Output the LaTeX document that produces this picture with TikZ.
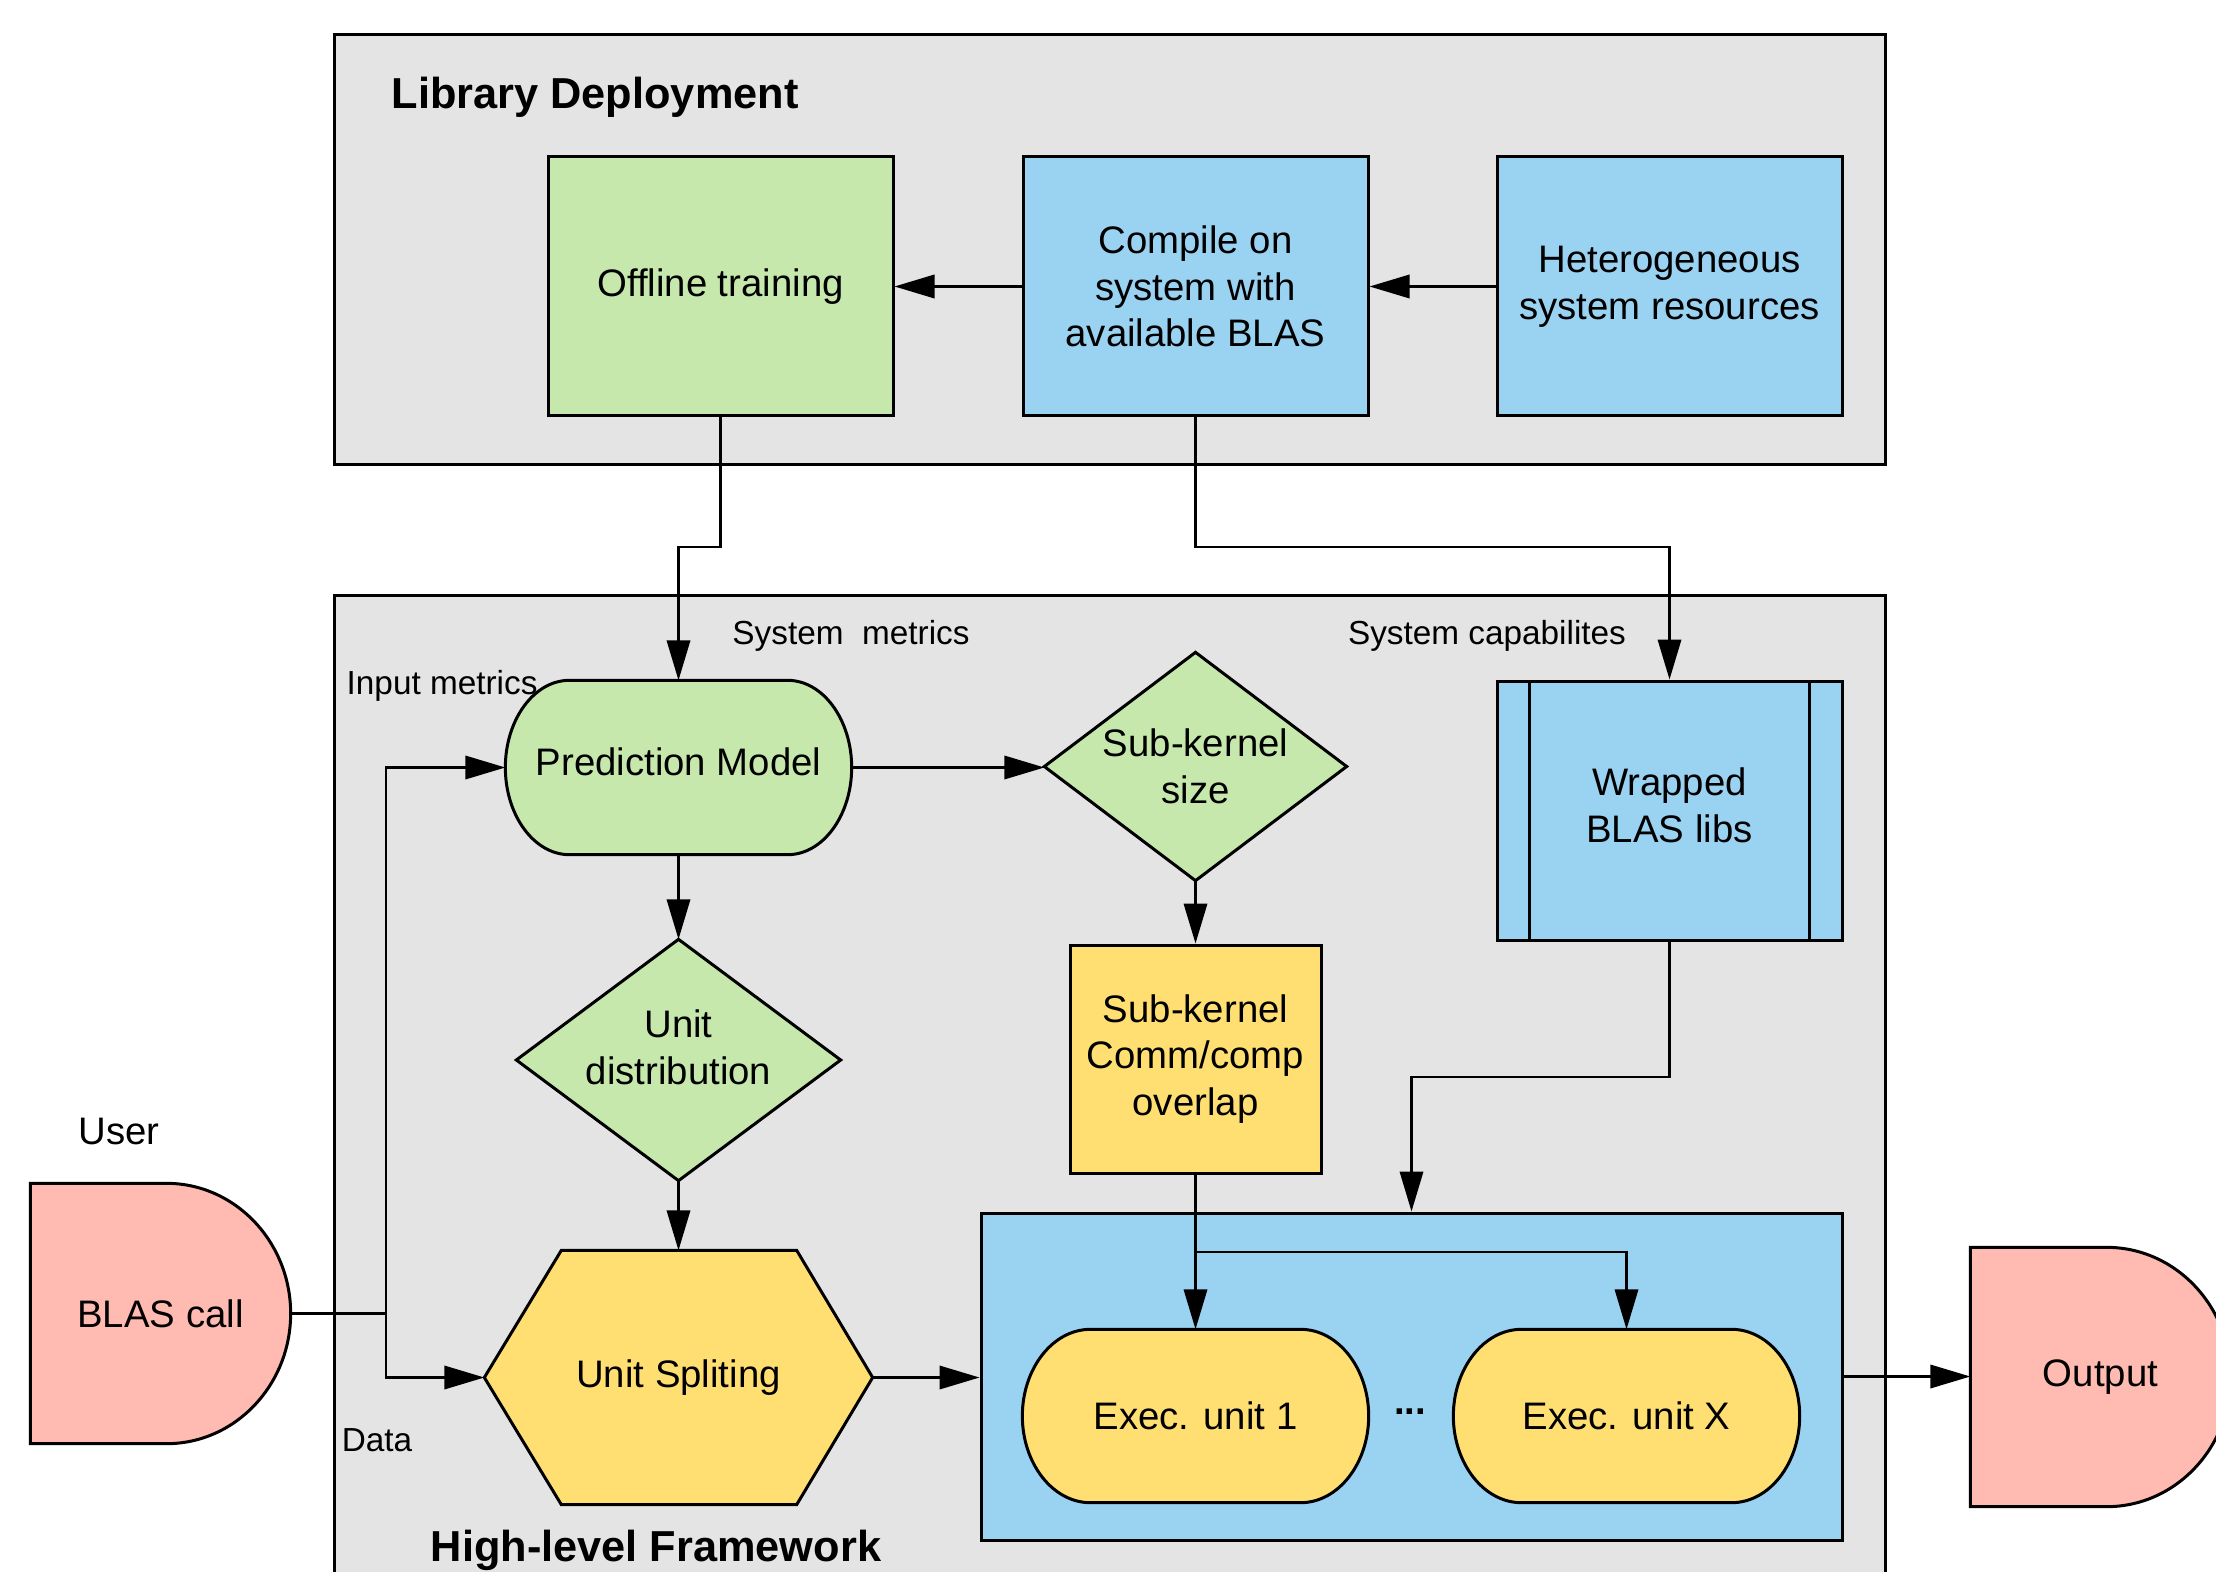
\documentclass[tikz,border=0pt]{standalone}
\usepackage{fontspec}
\setmainfont{Liberation Sans}
\usetikzlibrary{arrows.meta,calc,shapes.geometric}
\pgfdeclarelayer{back}\pgfdeclarelayer{mid}\pgfsetlayers{back,mid,main}
\definecolor{cgray}{HTML}{E4E4E4}
\definecolor{cgreen}{HTML}{C7E8AC}
\definecolor{cblue}{HTML}{9AD2F2}
\definecolor{cyel}{HTML}{FFDF71}
\definecolor{cpink}{HTML}{FFBBB1}
\newcommand\mybarrel[4]{\path[shp,#1] ($(#2.north west)+(#3,0)$) -- ($(#2.north east)+(-#3,0)$) .. controls +({0.552*#3},0) and +(0,{-0.552*#4}) .. (#2.east) .. controls +(0,{0.552*#4}) and +({0.552*#3},0) .. ($(#2.south east)+(-#3,0)$) -- ($(#2.south west)+(#3,0)$) .. controls +({-0.552*#3},0) and +(0,{0.552*#4}) .. (#2.west) .. controls +(0,{-0.552*#4}) and +({-0.552*#3},0) .. cycle;}
\newcommand\mydshape[4]{\path[shp,#1] (#2.north west) -- ($(#2.north east)+(-#3,0)$) .. controls +({0.552*#3},0) and +(0,{-0.552*#4}) .. (#2.east) .. controls +(0,{0.552*#4}) and +({0.552*#3},0) .. ($(#2.south east)+(-#3,0)$) -- (#2.south west) -- cycle;}
\newcommand\mydiamond[2]{\path[shp,#1] (#2.north) -- (#2.east) -- (#2.south) -- (#2.west) -- cycle;}
\begin{document}
\begin{tikzpicture}[x=0.3pt,y=-0.3pt,
 mainf/.style={font=\fontsize{11.5}{14}\selectfont, align=center},
 small/.style={font=\fontsize{10}{12}\selectfont},
 titlef/.style={font=\fontsize{13}{15}\selectfont\bfseries},
 wh/.style 2 args={minimum width=#1*0.3pt, minimum height=#2*0.3pt},
 box/.style={mainf, draw, line width=0.9pt, inner sep=0pt},
 shp/.style={draw, line width=0.9pt},
 ghost/.style={mainf, inner sep=0pt},
 cont/.style={draw, fill=cgray, line width=0.9pt, inner sep=0pt},
 arr/.style={draw, line width=0.75pt, -{Triangle[length=12pt,width=7pt]}},
 ln/.style={draw, line width=0.75pt},
]
\useasboundingbox (0,0) rectangle (2216,1572);
\begin{pgfonlayer}{back}
\begin{scope}
\clip (0,0) rectangle (2216,1572);
\node[cont, wh={1551}{430}] (ld) at (1109.5,250) {};
\node[cont, wh={1551}{1005}] (hf) at (1109.5,1097.5) {};
\node[draw, fill=cblue, line width=0.9pt, inner sep=0pt, wh={861}{327}] (ex) at (1411.5,1376.5) {};
\end{scope}
\end{pgfonlayer}

\node[box, fill=cgreen, wh={345}{259}] (off) at (720.5,286.5) {Offline training};
\node[box, fill=cblue, wh={345}{259}] (cp) at (1195.5,286.5) {Compile on\\system with\\available BLAS};
\node[box, fill=cblue, wh={345}{259}] (hs) at (1669.5,286.5) {Heterogeneous\\system resources};
\node[ghost, wh={345}{173}, text depth=3.4pt] (pm) at (678.5,767.5) {Prediction Model};
\node[ghost, wh={301}{227}] (sk) at (1195.5,766.5) {Sub-kernel\\size};
\node[ghost, wh={323}{240}, text depth=7.6pt] (ud) at (678.5,1060) {Unit\\distribution};
\node[box, fill=cblue, wh={345}{259}, text depth=3.4pt] (wr) at (1669.5,810.5) {Wrapped\\BLAS libs};
\node[box, fill=cyel, wh={251}{228}] (sc) at (1195.5,1059) {Sub-kernel\\Comm/comp\\overlap};
\node[ghost, wh={387}{253}] (us) at (678.5,1377.5) {Unit Spliting};
\node[ghost, wh={345}{172}] (e1) at (1195.5,1416) {Exec. unit 1};
\node[ghost, wh={345}{172}] (eX) at (1626.5,1416) {Exec. unit X};
\node[mainf, font=\fontsize{11.5}{14}\selectfont\bfseries] (dots) at (1410,1412) {...};
\node[ghost, wh={259}{259}] (bc) at (160.5,1313.5) {BLAS call};
\node[ghost, wh={259}{258}] (out) at (2100.5,1377) {Output};

\draw[line width=0.9pt] ($(wr.north west)+(34,0)$) -- ($(wr.south west)+(34,0)$);
\draw[line width=0.9pt] ($(wr.north east)+(-34,0)$) -- ($(wr.south east)+(-34,0)$);

\node[titlef, anchor=west, inner sep=0pt] (lld) at (391,97) {Library Deployment};
\node[titlef] (lhf) at (656,1550) {High-level Framework};
\node[small, anchor=west, inner sep=0pt] (lin) at (346,686) {Input metrics};
\node[small] (lsm) at (851,636) {System~~metrics};
\node[small] (lsc) at (1487,636) {System capabilites};
\node[mainf] (luser) at (119,1131) {User};
\node[small] (ldata) at (377,1440) {Data};

\coordinate (j1) at (0,547);
\coordinate (j2) at (0,1077);
\coordinate (j3) at (0,1252);
\coordinate (jb) at (386,1313.5);
\draw[arr] (cp.west) -- (off.east);
\draw[arr] (hs.west) -- (cp.east);
\draw[arr] (off.south) -- (off.south |- j1) -| (pm.north);
\draw[arr] (cp.south) -- (cp.south |- j1) -| (wr.north);
\draw[arr] (pm.east) -- (pm.east -| sk.west);
\draw[arr] (pm.south) -- (ud.north);
\draw[arr] (sk.south) -- (sc.north);
\draw[arr] (ud.south) -- (us.north);
\draw[arr] (wr.south) -- (wr.south |- j2) -| (ex.north);
\draw[arr] (sc.south) -- (e1.north);
\draw[arr] (sc.south |- j3) -| (eX.north);
\draw[ln] (bc.east) -- (jb);
\draw[arr] (jb) |- (pm.west);
\draw[arr] (jb) |- (us.west);
\draw[arr] (us.east) -- (us.east -| ex.west);
\draw[arr] (ex.east) -- (ex.east -| out.west);

\begin{pgfonlayer}{mid}
\mybarrel{fill=cgreen}{pm}{64}{86.5}
\mybarrel{fill=cyel}{e1}{68}{86}
\mybarrel{fill=cyel}{eX}{68}{86}
\mydiamond{fill=cgreen}{sk}
\mydiamond{fill=cgreen}{ud}
\mydshape{fill=cpink}{bc}{124}{129.5}
\begin{scope}
\clip (0,0) rectangle (2216,1572);
\mydshape{fill=cpink}{out}{124}{129}
\end{scope}
\path[shp, fill=cyel] ($(us.north west)+(77,0)$) -- ($(us.north east)+(-76,0)$) -- (us.east) -- ($(us.south east)+(-76,0)$) -- ($(us.south west)+(77,0)$) -- (us.west) -- cycle;
\end{pgfonlayer}
\end{tikzpicture}
\end{document}
